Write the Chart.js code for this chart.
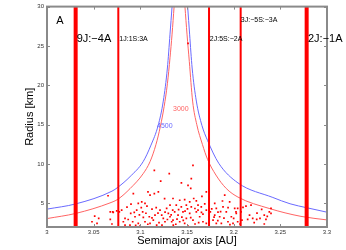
<!DOCTYPE html>
<html>
<head>
<meta charset="utf-8">
<script src="https://cdn.jsdelivr.net/npm/chart.js@4.4.1/dist/chart.umd.min.js"></script>
<style>
  html, body { margin: 0; padding: 0; background: #fff; }
  #wrap { width: 346px; height: 250px; }
</style>
</head>
<body>
<div id="wrap"><canvas id="chart"></canvas></div>
<script>
// axis ticks
const xTicks = [3, 3.05, 3.1, 3.15, 3.2, 3.25, 3.3];
const yTicks = [5, 10, 15, 20, 25, 30];

// mean motion resonances (semimajor axis, AU)
const resonanceA = [3.0307, 3.0764, 3.1736, 3.2075, 3.2782];
const resonanceNames = ['9J:−4A', '1J:1S:3A', '2J:5S:−2A', '3J:−5S:−3A', '2J:−1A'];

// 4500 curve (blue), two branches
const blueLeftA = [3.000, 3.031, 3.0696, 3.076, 3.089, 3.103, 3.1114, 3.119, 3.1246, 3.129, 3.1318, 3.134];
const blueLeftR = [4.27, 4.94, 6.55, 7.05, 8.4, 10.3, 12.4, 14.86, 18.0, 22.2, 26.5, 30];
const blueRightA = [3.1507, 3.1528, 3.1555, 3.160, 3.166, 3.172, 3.184, 3.2046, 3.242, 3.2604, 3.2782, 3.300];
const blueRightR = [30, 26.5, 22.2, 18.0, 14.9, 13.0, 10.1, 7.6, 5.75, 4.95, 4.45, 3.88];

// 3000 curve (red), two branches
const redLeftA = [3.000, 3.031, 3.0675, 3.076, 3.089, 3.103, 3.1104, 3.1168, 3.1215, 3.1255, 3.129, 3.1318, 3.134, 3.1362];
const redLeftR = [3.07, 3.73, 5.06, 5.53, 6.88, 8.77, 10.3, 12.5, 14.8, 17.3, 20.2, 23.5, 26.5, 30];
const redRightA = [3.1478, 3.150, 3.1525, 3.156, 3.1605, 3.1665, 3.172, 3.181, 3.192, 3.2046, 3.238, 3.2721, 3.300];
const redRightR = [30, 26.5, 23, 18, 15, 12.5, 10.6, 8.6, 6.9, 5.8, 4.36, 3.35, 2.9];

// asteroids
const asteroidA = [
  3.0654, 3.0482, 3.0511, 3.0536, 3.0554, 3.0678, 3.0678, 3.0710,
  3.1150, 3.1218, 3.1310, 3.1082, 3.1104, 3.1150, 3.1193, 3.0925, 3.1015, 3.1050, 3.0978,
  3.0704, 3.0747, 3.0775, 3.0800, 3.0836, 3.0836, 3.0897, 3.0918, 3.0943, 3.0961, 3.0978,
  3.1025, 3.1032, 3.1050, 3.1096, 3.1104, 3.1139, 3.1157, 3.1175, 3.1211, 3.1246, 3.1264,
  3.1282, 3.1300, 3.1318, 3.1336, 3.1347, 3.1353, 3.1229, 3.0889, 3.0818,
  3.1564, 3.1546, 3.1511, 3.1707, 3.1350, 3.1422, 3.1475, 3.1529, 3.1572, 3.1600,
  3.1385, 3.1439, 3.1493, 3.1546, 3.1618, 3.1653, 3.1368, 3.1404, 3.1457, 3.1493,
  3.1529, 3.1564, 3.1600, 3.1636, 3.1671, 3.1707, 3.1707, 3.1422, 3.1350, 3.1475,
  3.1797, 3.1814, 3.1850, 3.1779, 3.1797, 3.1886, 3.1921, 3.1904, 3.1957, 3.1975,
  3.2011, 3.2028, 3.1939, 3.1868, 3.1814, 3.1993, 3.1750, 3.1736,
  3.2186, 3.2043, 3.2079, 3.2089, 3.2043, 3.2150, 3.2204, 3.2247, 3.2282, 3.2328,
  3.2346, 3.2382, 3.2400, 3.2400, 3.2328, 3.2025,
  3.1511,
  3.0857, 3.1071, 3.1189, 3.1393, 3.1586, 3.1671, 3.1832, 3.1896, 3.0996, 3.1232,
  3.1511, 3.1618, 3.0900, 3.1479, 3.1318, 3.0696, 3.2068, 3.2250, 3.2132, 3.1125,
  3.0870, 3.0935, 3.0990, 3.1060, 3.1080, 3.1125, 3.1170, 3.1200, 3.1265, 3.1290,
  3.1330, 3.1380, 3.1410, 3.1445, 3.1460, 3.1505, 3.1540, 3.1585, 3.1625, 3.1655,
  3.1690, 3.1765, 3.1790, 3.1830, 3.1860, 3.1880, 3.1940, 3.1960, 3.2000, 3.2100,
  3.2170, 3.2220, 3.2300, 3.2360, 3.0950, 3.1010, 3.1540, 3.1440, 3.1260, 3.1660
];
const asteroidR = [
  5.97, 2.67, 3.39, 2.47, 3.10, 3.93, 2.97, 3.85,
  9.19, 7.84, 8.77, 6.45, 6.04, 6.25, 6.45, 6.25, 5.19, 4.99, 4.99,
  3.93, 4.06, 3.93, 4.14, 3.10, 2.25, 3.73, 2.67, 3.30, 4.14, 2.47,
  3.93, 3.22, 2.67, 3.30, 2.47, 2.88, 3.51, 2.25, 4.14, 3.10, 2.67,
  4.36, 3.73, 3.30, 2.67, 4.14, 2.25, 3.51, 2.25, 2.67,
  9.82, 8.14, 7.30, 6.45, 5.62, 5.40, 5.49, 5.19, 5.62, 5.32,
  4.77, 4.56, 4.77, 4.56, 4.77, 4.56, 3.93, 3.51, 3.93, 3.10,
  3.73, 2.88, 3.93, 3.30, 2.67, 4.14, 2.47, 2.67, 2.88, 2.47,
  4.99, 4.36, 3.30, 2.88, 3.51, 4.56, 3.93, 6.04, 5.19, 3.30,
  4.36, 3.73, 2.67, 2.47, 2.47, 2.47, 3.93, 3.30,
  4.77, 4.36, 3.93, 2.88, 2.67, 2.97, 3.10, 2.97, 3.10, 3.51,
  2.97, 3.93, 4.36, 3.73, 2.38, 3.93,
  25.33,
  4.52, 4.65, 3.77, 3.01, 2.38, 3.64, 3.89, 3.13, 2.13, 2.25,
  2.13, 4.14, 4.90, 4.02, 4.77, 2.38, 2.38, 3.77, 4.65, 4.27,
  2.95, 3.85, 3.55, 3.75, 2.35, 3.15, 4.45, 2.55, 3.90, 2.95,
  3.55, 2.35, 4.20, 3.25, 2.85, 4.30, 3.20, 4.35, 2.55, 3.85,
  4.95, 4.30, 3.25, 2.80, 3.95, 5.30, 4.45, 2.30, 3.10, 4.50,
  3.50, 2.55, 4.25, 3.35, 2.20, 4.45, 6.90, 7.60, 5.60, 5.90
];

const pairs = (xs, ys) => xs.map((x, i) => ({ x: x, y: ys[i] }));

const RED = '#ff0000';
const CURVE_RED = '#ff6464';
const CURVE_BLUE = '#6a6aff';
const SPINE = '#8a8a8a';
const FONT = "'Liberation Sans', Arial, sans-serif";

// text placed in data coordinates
const notes = [
  { text: 'A', x: 3.0100, y: 28.2, size: 11, color: '#000' },
  { text: resonanceNames[0], x: 3.0318, y: 25.9, size: 11, color: '#000' },
  { text: resonanceNames[1], x: 3.0775, y: 25.9, size: 7, color: '#000' },
  { text: resonanceNames[2], x: 3.1745, y: 25.9, size: 7, color: '#000' },
  { text: resonanceNames[3], x: 3.2077, y: 28.3, size: 7, color: '#000' },
  { text: resonanceNames[4], x: 3.2796, y: 25.9, size: 11, color: '#000' },
  { text: '4500', x: 3.1179, y: 14.86, size: 7, color: CURVE_BLUE },
  { text: '3000', x: 3.1350, y: 17.0, size: 7, color: CURVE_RED }
];

const frameAndNotes = {
  id: 'frameAndNotes',
  afterDatasetsDraw(chart) {
    const { ctx, chartArea: a, scales } = chart;
    ctx.save();
    // inward ticks on all four sides
    ctx.strokeStyle = SPINE;
    ctx.lineWidth = 1;
    ctx.beginPath();
    xTicks.forEach(v => {
      const px = Math.round(scales.x.getPixelForValue(v)) + 0.5;
      ctx.moveTo(px, a.bottom); ctx.lineTo(px, a.bottom - 3);
      ctx.moveTo(px, a.top); ctx.lineTo(px, a.top + 3);
    });
    yTicks.forEach(v => {
      const py = Math.round(scales.y.getPixelForValue(v)) + 0.5;
      ctx.moveTo(a.left, py); ctx.lineTo(a.left + 3, py);
      ctx.moveTo(a.right, py); ctx.lineTo(a.right - 3, py);
    });
    ctx.stroke();
    // box
    ctx.lineWidth = 2;
    ctx.strokeRect(a.left, a.top, a.right - a.left, a.bottom - a.top);
    // labels
    ctx.textBaseline = 'middle';
    ctx.textAlign = 'left';
    notes.forEach(n => {
      ctx.font = n.size + 'px ' + FONT;
      ctx.fillStyle = n.color;
      ctx.fillText(n.text, scales.x.getPixelForValue(n.x), scales.y.getPixelForValue(n.y));
    });
    ctx.restore();
  }
};

const datasets = [];
resonanceA.forEach((a, i) => {
  datasets.push({
    data: [{ x: a, y: 2 }, { x: a, y: 30 }],
    showLine: true,
    borderColor: RED,
    borderWidth: (i === 0 || i === 4) ? 4 : 2,
    pointRadius: 0
  });
});
datasets.push({
  data: pairs(asteroidA, asteroidR),
  pointStyle: 'rect',
  pointRadius: 1.2,
  borderWidth: 0,
  backgroundColor: RED
});
[
  [blueLeftA, blueLeftR, CURVE_BLUE], [blueRightA, blueRightR, CURVE_BLUE],
  [redLeftA, redLeftR, CURVE_RED], [redRightA, redRightR, CURVE_RED]
].forEach(([xs, ys, c]) => {
  datasets.push({
    data: pairs(xs, ys),
    showLine: true,
    borderColor: c,
    borderWidth: 1,
    pointRadius: 0,
    cubicInterpolationMode: 'monotone'
  });
});

new Chart(document.getElementById('chart'), {
  type: 'scatter',
  data: { datasets: datasets },
  options: {
    responsive: true,
    maintainAspectRatio: false,
    animation: false,
    events: [],
    layout: { padding: { top: 5, right: 19, left: 0, bottom: 0 } },
    plugins: { legend: { display: false }, tooltip: { enabled: false } },
    scales: {
      x: {
        type: 'linear',
        min: 3, max: 3.3,
        afterBuildTicks: s => { s.ticks = xTicks.map(v => ({ value: v })); },
        afterFit: s => { s.height = 23; },
        grid: { display: false, drawTicks: false },
        border: { display: false },
        ticks: {
          padding: 2,
          color: '#333',
          font: { family: FONT, size: 6 },
          callback: v => String(Number(v.toFixed(2)))
        },
        title: {
          display: true,
          text: 'Semimajor axis [AU]',
          color: '#000',
          font: { family: FONT, size: 11 },
          padding: { top: 0, bottom: 2 }
        }
      },
      y: {
        type: 'linear',
        min: 2, max: 30,
        afterBuildTicks: s => { s.ticks = yTicks.map(v => ({ value: v })); },
        afterFit: s => { s.width = 47; },
        grid: { display: false, drawTicks: false },
        border: { display: false },
        ticks: {
          padding: 3,
          color: '#333',
          font: { family: FONT, size: 6 }
        },
        title: {
          display: true,
          text: 'Radius [km]',
          color: '#000',
          font: { family: FONT, size: 11 },
          padding: { top: 23, bottom: 0 }
        }
      }
    }
  },
  plugins: [frameAndNotes]
});
</script>
</body>
</html>
